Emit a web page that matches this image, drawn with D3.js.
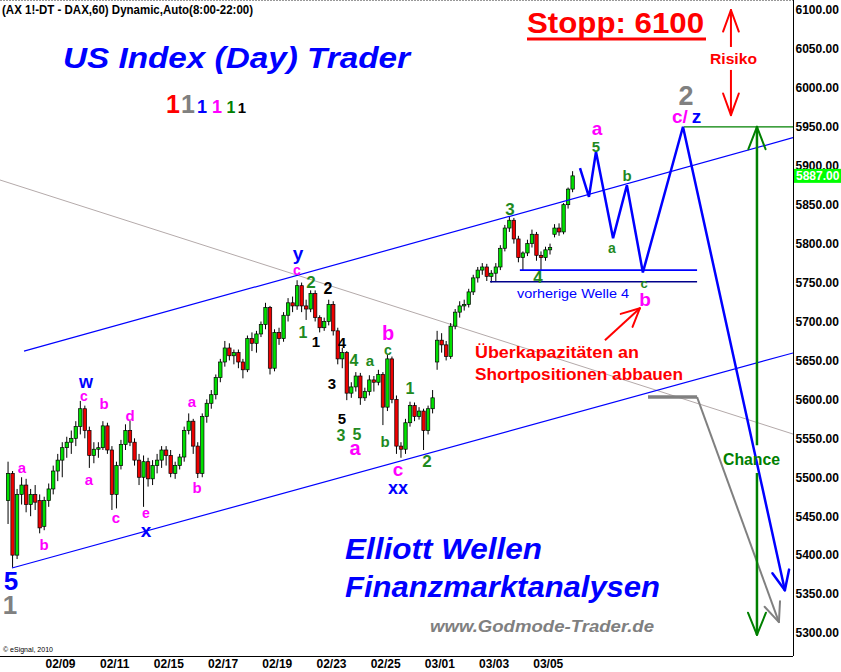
<!DOCTYPE html>
<html><head><meta charset="utf-8">
<script src="https://cdn.jsdelivr.net/npm/d3@7/dist/d3.min.js"></script>
<style>
body{margin:0;background:#fff}
svg{display:block}
text{font-family:Arial,"Liberation Sans",sans-serif}
</style>
</head><body>
<svg id="c" width="841" height="672"></svg>
<script>
// ---------------- DATA ----------------
const dateLabels = ["02/09","02/11","02/15","02/17","02/19","02/23","02/25","03/01","03/03","03/05"];
const dateDayIndex = [2,4,6,8,10,12,14,16,18,20];
const priceTicks = [5300,5350,5400,5450,5500,5550,5600,5650,5700,5750,5800,5850,5900,5950,6000,6050,6100];
const barsPerDay = 6;
const opens = [5470,5505,5400,5478,5490,5465,5478,5470,5437,5470,5485,5508,5522,5538,5545,5550,5565,5588,5560,5528,
5536,5538,5566,5535,5478,5515,5542,5560,5545,5522,5500,5520,5498,5515,5522,5535,5528,5505,5515,5526,
5560,5572,5540,5505,5578,5595,5606,5628,5648,5666,5656,5660,5648,5638,5678,5672,5684,5696,5718,5640,
5686,5678,5708,5724,5720,5746,5720,5716,5736,5705,5692,5700,5722,5688,5652,5660,5608,5616,5630,5602,
5610,5625,5622,5632,5590,5652,5600,5540,5536,5570,5592,5578,5585,5560,5588,5648,5676,5670,5655,5694,
5712,5720,5722,5738,5756,5766,5770,5758,5762,5770,5794,5820,5830,5806,5782,5788,5800,5812,5785,5782,
5792,5812,5820,5815,5850,5870];
const highs = [5520,5508,5485,5500,5498,5485,5490,5478,5475,5492,5515,5530,5545,5552,5560,5572,5598,5592,5565,5545,
5545,5572,5570,5540,5520,5548,5568,5573,5550,5530,5528,5525,5522,5530,5540,5540,5535,5520,5530,5565,
5582,5575,5545,5582,5600,5612,5632,5652,5675,5672,5664,5664,5652,5682,5686,5688,5700,5724,5720,5690,
5692,5712,5730,5732,5753,5750,5728,5740,5740,5708,5705,5728,5726,5692,5666,5662,5622,5635,5634,5615,
5631,5630,5638,5635,5657,5655,5605,5545,5575,5597,5596,5590,5588,5592,5612,5688,5685,5675,5698,5716,
5726,5728,5742,5760,5770,5775,5774,5766,5775,5798,5824,5835,5833,5810,5790,5805,5818,5815,5790,5796,
5800,5825,5826,5852,5872,5893];
const lows = [5440,5384,5395,5465,5455,5450,5458,5428,5432,5462,5478,5495,5500,5525,5530,5540,5555,5550,5512,5518,
5525,5535,5530,5458,5460,5510,5535,5540,5515,5490,5462,5488,5490,5505,5512,5515,5500,5498,5510,5520,
5555,5530,5499,5500,5570,5588,5600,5622,5642,5650,5645,5640,5627,5635,5662,5660,5680,5690,5632,5636,
5670,5674,5700,5712,5715,5712,5702,5712,5700,5686,5688,5695,5682,5645,5640,5599,5602,5610,5593,5598,
5605,5610,5618,5567,5585,5595,5530,5525,5530,5565,5572,5574,5535,5555,5582,5638,5660,5650,5652,5690,
5705,5714,5718,5734,5750,5760,5752,5750,5752,5766,5790,5815,5800,5776,5766,5784,5795,5778,5766,5778,
5786,5808,5810,5812,5845,5866];
const closes = [5505,5400,5478,5490,5465,5478,5468,5435,5470,5485,5508,5522,5538,5545,5550,5565,5588,5560,5528,5536,
5538,5566,5535,5478,5515,5542,5560,5545,5522,5500,5520,5498,5515,5522,5535,5528,5505,5515,5526,5560,
5572,5540,5505,5578,5595,5606,5628,5648,5666,5656,5660,5648,5638,5678,5672,5684,5696,5718,5640,5686,
5678,5708,5724,5720,5746,5720,5716,5736,5705,5692,5700,5722,5688,5652,5660,5608,5616,5630,5602,5610,
5625,5622,5632,5590,5652,5600,5540,5536,5570,5592,5578,5585,5560,5588,5602,5676,5670,5655,5694,5712,
5720,5722,5738,5756,5766,5770,5758,5762,5770,5794,5820,5830,5806,5782,5788,5800,5812,5785,5782,5792,
5795,5820,5815,5850,5870,5887];
const lastPrice = 5887;

// annotation lines in [day index, price]
const upperChannel = [[0.672,5662],[29.05,5936]];
const lowerChannel = [[0.229,5383.5],[29.05,5659.6]];
const grayResistance = [[-0.214,5881.7],[29.05,5555.5]];
const welle4Upper = [[18.97,5766],[25.51,5766]];
const welle4Lower = [[17.87,5751],[25.51,5751]];
const forecastPath = [[21.19,5897],[21.52,5860],[21.78,5918],[22.41,5807],[22.92,5875],[23.51,5763],[24.99,5950],[28.75,5355]];
const grayForecast = [[23.70,5603],[25.51,5603],[28.53,5314]];
const targetLine = [[25.03,5950],[29.05,5950]];
const chanceArrow = {day:27.72, top:5950, bottom:5297.5, gapTop:5541, gapBottom:5505.5};
const risikoArrow = {day:26.76, top:6100, bottom:5965, gapTop:6052.5, gapBottom:6023};
const redArrow = [[22.11,5676],[23.40,5717]];

// ---------------- CHART ----------------
const svg = d3.select("#c");
const plotR = 793, plotB = 656;
const x = d3.scaleLinear().domain([0,29.05]).range([5.8,793]);
const y = d3.scaleLinear().domain([5270.5,6112.8]).range([656,0]);

svg.append("defs").append("clipPath").attr("id","plot")
  .append("rect").attr("x",0).attr("y",0).attr("width",plotR).attr("height",plotB);
const g = svg.append("g").attr("clip-path","url(#plot)");

const line = d3.line().x(d=>x(d[0])).y(d=>y(d[1]));
function drawLine(pts, stroke, w, parent){
  return (parent||g).append("path").attr("d", line(pts)).attr("fill","none")
    .attr("stroke", stroke).attr("stroke-width", w);
}
function arrowHead(tip, from, L, angDeg, stroke, w){
  const tx=x(tip[0]), ty=y(tip[1]), fx=x(from[0]), fy=y(from[1]);
  const dx=fx-tx, dy=fy-ty, n=Math.hypot(dx,dy), ux=dx/n, uy=dy/n;
  const a=angDeg*Math.PI/180;
  [a,-a].forEach(t=>{
    const rx=ux*Math.cos(t)-uy*Math.sin(t), ry=ux*Math.sin(t)+uy*Math.cos(t);
    g.append("line").attr("x1",tx).attr("y1",ty).attr("x2",tx+rx*L).attr("y2",ty+ry*L)
      .attr("stroke",stroke).attr("stroke-width",w).attr("stroke-linecap","round");
  });
}

// gray declining line (behind)
drawLine(grayResistance, "#b4aaaa", 1);

// candles
const bars = closes.map((c,i)=>({i, o:opens[i], h:highs[i], l:lows[i], c}));
const bx = i => x((i+0.5)/barsPerDay);
const cw = 3.4;
g.selectAll("line.wick").data(bars).enter().append("line")
  .attr("x1",d=>bx(d.i)).attr("x2",d=>bx(d.i))
  .attr("y1",d=>y(d.h)).attr("y2",d=>y(d.l))
  .attr("stroke","#000").attr("stroke-width",1);
g.selectAll("rect.body").data(bars).enter().append("rect")
  .attr("x",d=>bx(d.i)-cw/2).attr("width",cw)
  .attr("y",d=>y(Math.max(d.o,d.c)))
  .attr("height",d=>Math.max(1,Math.abs(y(d.o)-y(d.c))))
  .attr("fill",d=>d.c>=d.o?"#00e000":"#ee0000")
  .attr("stroke","#000").attr("stroke-width",0.7);

// channels
drawLine(upperChannel, "#0000ff", 1.2);
drawLine(lowerChannel, "#0000ff", 1.2);
drawLine(welle4Upper, "#0000ff", 1.6);
drawLine(welle4Lower, "#00008b", 1.6);

// forecast zigzag
drawLine(forecastPath, "#0000ff", 2.5).attr("stroke-linejoin","miter");
arrowHead(forecastPath[forecastPath.length-1], forecastPath[forecastPath.length-2], 21, 24, "#0000ff", 2.5);

// gray forecast
drawLine(grayForecast.slice(0,2), "#808080", 3.5);
drawLine(grayForecast.slice(1), "#808080", 2);
arrowHead(grayForecast[2], grayForecast[1], 21, 23, "#808080", 2);

// target line and Chance arrow
drawLine(targetLine, "#008000", 1.3);
drawLine([[chanceArrow.day,chanceArrow.top],[chanceArrow.day,chanceArrow.gapTop]], "#008000", 2.5);
drawLine([[chanceArrow.day,chanceArrow.gapBottom],[chanceArrow.day,chanceArrow.bottom]], "#008000", 2.5);
arrowHead([chanceArrow.day,chanceArrow.top],[chanceArrow.day,chanceArrow.bottom],24,21,"#008000",2);
arrowHead([chanceArrow.day,chanceArrow.bottom],[chanceArrow.day,chanceArrow.top],24,22,"#008000",2);

// Risiko arrow
drawLine([[risikoArrow.day,risikoArrow.top],[risikoArrow.day,risikoArrow.gapTop]], "#ff0000", 2);
drawLine([[risikoArrow.day,risikoArrow.gapBottom],[risikoArrow.day,risikoArrow.bottom]], "#ff0000", 2);
arrowHead([risikoArrow.day,risikoArrow.top],[risikoArrow.day,risikoArrow.bottom],23,20,"#ff0000",2);
arrowHead([risikoArrow.day,risikoArrow.bottom],[risikoArrow.day,risikoArrow.top],23,20,"#ff0000",2);

// red small arrow
drawLine(redArrow, "#ff0000", 2);
arrowHead(redArrow[1], redArrow[0], 20, 26, "#ff0000", 2);

// ---------------- AXES / FRAME ----------------
svg.append("line").attr("x1",0).attr("x2",plotR).attr("y1",0.5).attr("y2",0.5)
  .attr("stroke","#999").attr("stroke-dasharray","2,1");
svg.append("line").attr("x1",0).attr("x2",plotR).attr("y1",plotB+0.5).attr("y2",plotB+0.5).attr("stroke","#000");

const yAxis = svg.append("g").attr("transform",`translate(${plotR+0.5},0)`)
  .call(d3.axisRight(y).tickValues(priceTicks).tickFormat(d=>d.toFixed(2)).tickSize(0).tickPadding(2));
yAxis.select(".domain").attr("stroke","#000").attr("d",`M0,0V${plotB}`);
yAxis.selectAll("text").attr("font-size",12).attr("font-weight","bold").attr("fill","#000")
  .attr("font-family","Arial,'Liberation Sans',sans-serif");

// last price box
const lp = svg.append("g").attr("transform",`translate(${plotR+1},${y(lastPrice)})`);
lp.append("rect").attr("x",0).attr("y",-7).attr("width",47).attr("height",14).attr("fill","#00ff00");
lp.append("text").attr("x",2).attr("y",4.5).attr("font-size",12).attr("font-weight","bold")
  .attr("fill","#fff").text(lastPrice.toFixed(2));

const xAxis = svg.append("g").attr("transform",`translate(0,${plotB})`)
  .call(d3.axisBottom(x).tickValues(dateDayIndex).tickFormat((d,i)=>dateLabels[i]).tickSize(0).tickPadding(3));
xAxis.select(".domain").remove();
xAxis.selectAll("text").attr("font-size",12).attr("font-weight","bold").attr("fill","#000")
  .attr("font-family","'Liberation Sans Narrow',Arial,sans-serif");

// ---------------- TEXT ----------------
function txt(t, px, py, opt){
  opt = opt||{};
  const e = svg.append("text").attr("x",px).attr("y",py).text(t)
    .attr("font-size",opt.size||15).attr("font-weight",opt.weight||"bold")
    .attr("fill",opt.color||"#000").attr("text-anchor",opt.anchor||"middle");
  if(opt.italic) e.attr("font-style","italic");
  if(opt.dy!==undefined) e.attr("dy",opt.dy); else e.attr("dy","0.35em");
  if(opt.len) e.attr("textLength",opt.len).attr("lengthAdjust","spacingAndGlyphs");
  return e;
}
svg.append("text").attr("x",2).attr("y",14).attr("font-size",12).attr("font-weight","bold")
  .attr("textLength",251).attr("lengthAdjust","spacingAndGlyphs")
  .text("(AX 1!-DT - DAX,60) Dynamic,Auto(8:00-22:00)");

txt("US Index (Day) Trader", 63, 68, {size:29, italic:true, color:"#0000ff", anchor:"start", dy:0, len:347});
[["1",173,"#ff0000",25],["1",188,"#808080",25],["1",202,"#0000ff",18],["1",217,"#ff00ff",18],["1",231,"#008000",16],["1",242,"#000000",15]]
  .forEach(d=>txt(d[0], d[1], 113, {size:d[3], color:d[2], dy:0}));

txt("Stopp: 6100", 527, 33, {size:29, color:"#ff0000", anchor:"start", dy:0, len:177});
svg.append("rect").attr("x",527).attr("y",37.5).attr("width",179).attr("height",3).attr("fill","#ff0000");
txt("Risiko", 710, 64, {size:15, color:"#ff0000", anchor:"start", dy:0, len:47});

txt("2", 686, 105, {size:27, color:"#808080", dy:0});
const cz = svg.append("text").attr("x",672).attr("y",123).attr("font-size",19).attr("font-weight","bold");
cz.append("tspan").attr("fill","#ff00ff").text("c/");
cz.append("tspan").attr("fill","#0000ff").attr("dx",4).text("z");

const M="#ff00ff", B="#0000ff", G="#1f8a1f", K="#000000";
const labels = [
 ["5",11,581,B,26],["1",10,605,"#808080",26],
 ["a",22,468,M,15],["b",44,545,M,15],["w",86,382,B,18],["c",84,396,M,14],
 ["a",89,480,M,15],["b",104,404,M,15],["d",130,416,M,15],["c",116,518,M,15],
 ["e",146,513,M,14],["x",146,530,B,19],["a",192,402,M,15],["b",197,488,M,15],
 ["y",298,253,B,19],["c",297,270,M,14],["2",311,282,G,17],["2",328,288,K,16],
 ["1",303,332,G,16],["1",316,342,K,15],["4",342,343,K,15],["3",332,384,K,15],
 ["4",354,360,G,16],["a",370,361,G,15],["b",388,333,M,20],["c",388,350,G,14],
 ["5",342,419,K,15],["3",341,435,G,16],["5",357,434,G,16],["a",355,448,M,20],
 ["b",385,442,G,15],["1",410,388,G,16],["2",427,461,G,17],["c",398,469,M,19],
 ["xx",398,488,B,18],
 ["3",510,209,G,17],["4",538,277,G,17],
 ["a",597,128,M,19],["5",596,147,G,15],["b",627,176,G,15],["a",612,248,G,14],
 ["c",644,283,G,13],["b",645,299,M,19]
];
labels.forEach(d=>txt(d[0],d[1],d[2],{size:d[4],color:d[3]}));

txt("vorherige Welle 4", 517, 298, {size:13, weight:"normal", color:"#0000ff", anchor:"start", dy:0, len:112});
txt("Überkapazitäten an", 475, 358, {size:16, color:"#ff0000", anchor:"start", dy:0, len:164});
txt("Shortpositionen abbauen", 475, 380, {size:16, color:"#ff0000", anchor:"start", dy:0, len:208});
txt("Chance", 723, 465, {size:16, color:"#008000", anchor:"start", dy:0, len:57});

txt("Elliott Wellen", 345, 559, {size:29, italic:true, color:"#0000ff", anchor:"start", dy:0, len:197});
txt("Finanzmarktanalysen", 345, 597, {size:29, italic:true, color:"#0000ff", anchor:"start", dy:0, len:315});
txt("www.Godmode-Trader.de", 430, 632, {size:17, italic:true, color:"#808080", anchor:"start", dy:0, len:224});
txt("© eSignal, 2010", 3, 652, {size:7, weight:"normal", anchor:"start", dy:0});
</script>
</body></html>
